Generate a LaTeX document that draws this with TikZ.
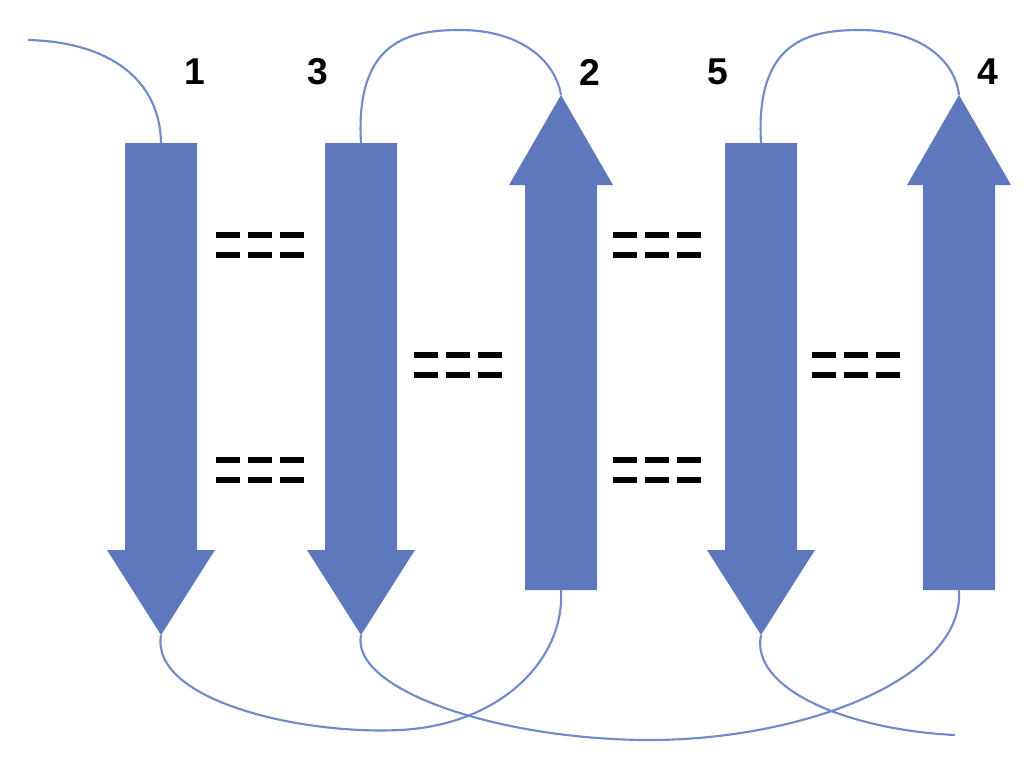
\documentclass[tikz,border=0pt]{standalone}
\usepackage{fontspec}
\setmainfont{Liberation Sans}
\definecolor{strandblue}{HTML}{5F78BD}
\definecolor{loopblue}{HTML}{6F8BC8}
\begin{document}
\begin{tikzpicture}[x=0.75pt,y=-0.75pt]
    \tikzstyle{strand} = [fill=strandblue, draw=none]
    \tikzstyle{loop} = [draw=loopblue, line width=1.6pt]
    \tikzstyle{num} = [font=\bfseries\fontsize{28}{28}\selectfont, inner sep=0pt]
    \tikzstyle{hb} = [line width=4.5pt, black]
    \useasboundingbox (0,0) rectangle (1024,771);
    % down strands (1, 3, 5)
    \foreach \x/\n in {161/1, 361/3, 761/5} {
        \fill[strand] (\x-36,143) -- (\x+36,143) -- (\x+36,550) -- (\x+54,550)
            -- (\x,635) -- (\x-54,550) -- (\x-36,550) -- cycle;
        \coordinate (top\n) at (\x,143);
        \coordinate (tip\n) at (\x,635);
    }
    % up strands (2, 4)
    \foreach \x/\n in {561/2, 959/4} {
        \fill[strand] (\x-36,590) -- (\x+36,590) -- (\x+36,185) -- (\x+52,185)
            -- (\x,95) -- (\x-52,185) -- (\x-36,185) -- cycle;
        \coordinate (bot\n) at (\x,590);
        \coordinate (tip\n) at (\x,95);
    }
    % labels
    \node[num] (l1) at (195,72) {1};
    \node[num] (l3) at (318,72) {3};
    \node[num] (l2) at (590,72) {2};
    \node[num] (l5) at (718,72) {5};
    \node[num] (l4) at (988,72) {4};
    % hydrogen bonds
    \foreach \cx/\cy in {260/245, 260/470, 458/365, 657/245, 657/470, 856/365} {
        \foreach \dy in {-10,10} \foreach \dx in {-32,0,32}
            \draw[hb] (\cx+\dx-12,\cy+\dy) -- (\cx+\dx+12,\cy+\dy);
    }
    % loops
    \coordinate (start) at (28,40);
    \coordinate (stop) at (955,735);
    \draw[loop] (start) .. controls (110,42) and (160,80) .. (top1);
    \draw[loop] (top3) .. controls (355,40) and (410,30) .. (460,30)
        .. controls (520,30) and (555,60) .. (tip2);
    \draw[loop] (top5) .. controls (755,40) and (810,30) .. (860,30)
        .. controls (920,30) and (955,60) .. (tip4);
    \draw[loop] (tip1) .. controls (150,700) and (300,735) .. (400,730)
        .. controls (500,725) and (565,660) .. (bot2);
    \draw[loop] (tip3) .. controls (350,690) and (500,740) .. (650,740)
        .. controls (800,740) and (965,680) .. (bot4);
    \draw[loop] (tip5) .. controls (750,690) and (850,730) .. (stop);
\end{tikzpicture}
\end{document}
